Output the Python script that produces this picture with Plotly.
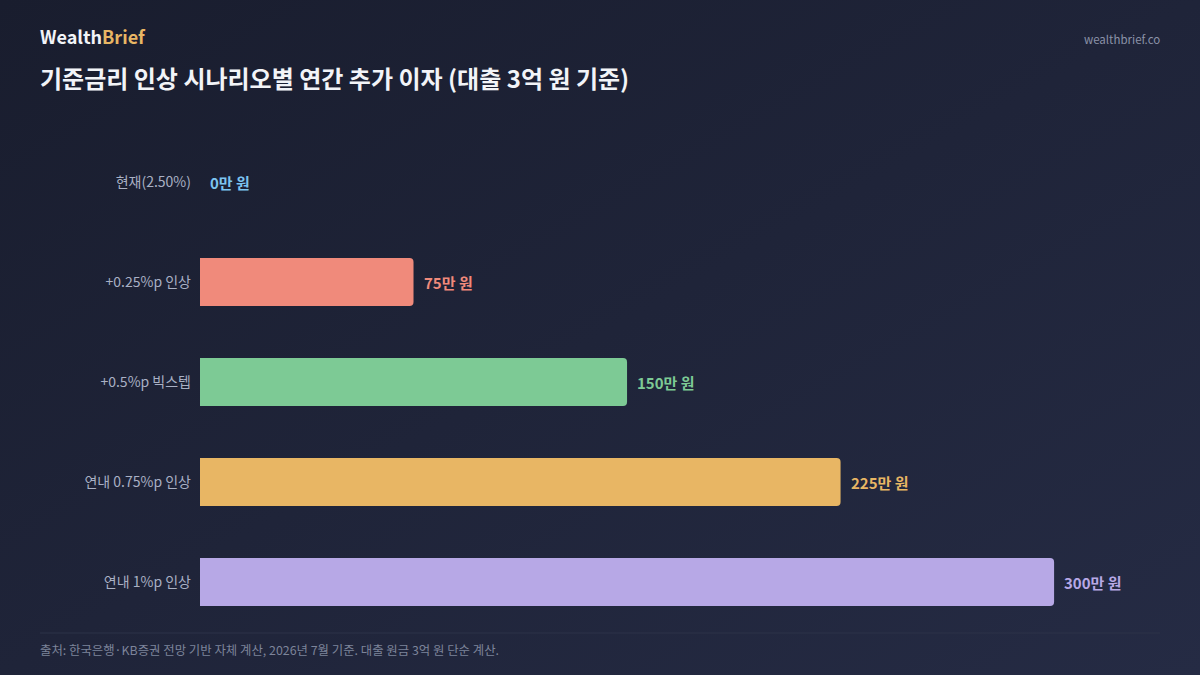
import plotly.graph_objects as go
import base64

categories = ["현재(2.50%)", "+0.25%p 인상", "+0.5%p 빅스텝", "연내 0.75%p 인상", "연내 1%p 인상"]
values = [0, 75, 150, 225, 300]
value_labels = ["0만 원", "75만 원", "150만 원", "225만 원", "300만 원"]
colors = ["#7cc4f0", "#f08a7b", "#7dca95", "#e8b664", "#b7a8e6"]

FONT = "Noto Sans CJK KR"

svg = ('<svg xmlns="http://www.w3.org/2000/svg" width="1200" height="675">'
       '<defs><linearGradient id="g" x1="0" y1="0" x2="1" y2="1">'
       '<stop offset="0" stop-color="#191d2e"/><stop offset="1" stop-color="#252b44"/>'
       '</linearGradient></defs><rect width="1200" height="675" fill="url(#g)"/></svg>')
bg_uri = "data:image/svg+xml;base64," + base64.b64encode(svg.encode()).decode()

fig = go.Figure()
fig.add_trace(go.Bar(
    x=values, y=categories, orientation="h",
    marker=dict(color=colors, line=dict(width=0)),
    width=0.48, hoverinfo="skip",
))

for c, v, lab, col in zip(categories, values, value_labels, colors):
    fig.add_annotation(x=v, y=c, text=f"<b>{lab}</b>", showarrow=False,
                       xanchor="left", xshift=8, font=dict(family=FONT, size=15, color=col))

fig.update_layout(
    width=1200, height=675,
    margin=dict(l=200, r=40, t=132, b=43),
    paper_bgcolor="#1c2134", plot_bgcolor="rgba(0,0,0,0)",
    barcornerradius=4,
    showlegend=False,
    font=dict(family=FONT),
    xaxis=dict(range=[0, 337.2], visible=False, fixedrange=True),
    yaxis=dict(categoryorder="array", categoryarray=categories,
               range=[4.5, -0.5], showgrid=False, zeroline=False, showline=False,
               ticks="", ticklabelstandoff=8,
               tickfont=dict(family=FONT, size=14, color="#a9b0c4")),
)
fig.add_layout_image(source=bg_uri, xref="paper", yref="paper",
                     x=-200/960, y=1 + 132/500, sizex=1200/960, sizey=675/500,
                     xanchor="left", yanchor="top", sizing="stretch", layer="below")

LX = -162/960
fig.add_annotation(xref="paper", yref="paper", x=LX, y=1 + (132-36)/500,
                   text="<b>Wealth<span style='color:#e8b664'>Brief</span></b>",
                   showarrow=False, xanchor="left", yanchor="middle",
                   font=dict(family=FONT, size=18, color="#f2f4f8"))
fig.add_annotation(xref="paper", yref="paper", x=1 + 2/960, y=1 + (132-39)/500,
                   text="wealthbrief.co", showarrow=False, xanchor="right", yanchor="middle",
                   font=dict(family=FONT, size=11.5, color="#8b92a8"))
fig.add_annotation(xref="paper", yref="paper", x=LX, y=1 + (132-78)/500,
                   text="<b>기준금리 인상 시나리오별 연간 추가 이자 (대출 3억 원 기준)</b>",
                   showarrow=False, xanchor="left", yanchor="middle",
                   font=dict(family=FONT, size=24, color="#f2f4f8"))
fig.add_shape(type="line", xref="paper", yref="paper", x0=-160/960, x1=1, y0=-1/500, y1=-1/500,
              line=dict(color="#2c3349", width=1))
fig.add_annotation(xref="paper", yref="paper", x=LX, y=-(650-632)/500,
                   text="출처: 한국은행·KB증권 전망 기반 자체 계산, 2026년 7월 기준. 대출 원금 3억 원 단순 계산.",
                   showarrow=False, xanchor="left", yanchor="middle",
                   font=dict(family=FONT, size=12.4, color="#7d849a"))

fig.write_html("out.html")
